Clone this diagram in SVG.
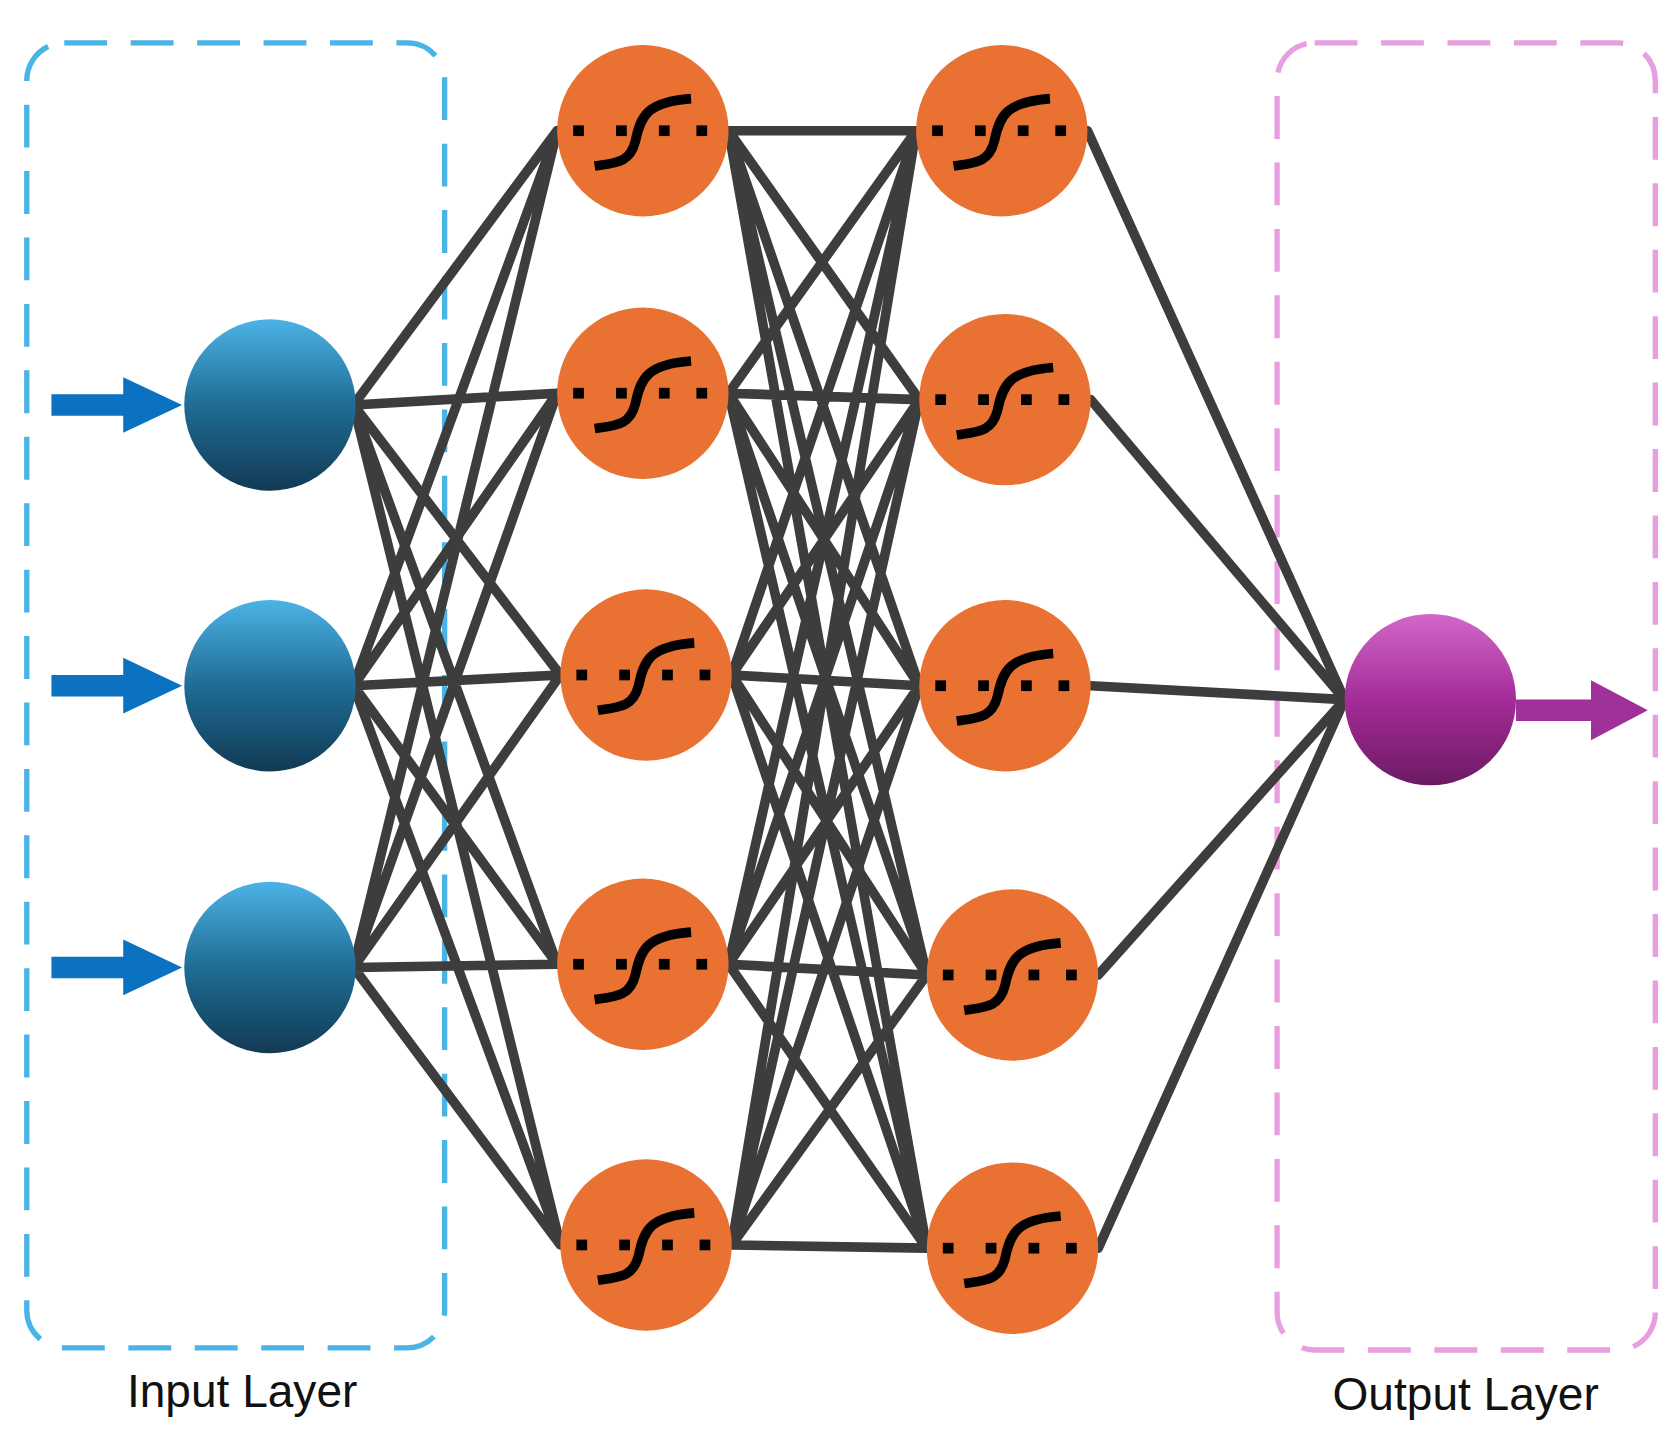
<svg xmlns="http://www.w3.org/2000/svg" width="1680" height="1449" viewBox="0 0 1680 1449">
<defs>
<linearGradient id="gb" x1="0" y1="0" x2="0" y2="1"><stop offset="0" stop-color="#4cb3e6"/><stop offset="0.5" stop-color="#1f6c94"/><stop offset="1" stop-color="#123a55"/></linearGradient>
<linearGradient id="gp" x1="0" y1="0" x2="0" y2="1"><stop offset="0" stop-color="#d168c8"/><stop offset="0.5" stop-color="#a42c98"/><stop offset="1" stop-color="#6c1a64"/></linearGradient>
<g id="sig"><circle r="80" fill="#e97132"/><g fill="#000"><rect x="-65" y="-5" width="10" height="10"/><rect x="-25" y="-5" width="10" height="10"/><rect x="15" y="-5" width="10" height="10"/><rect x="50" y="-5" width="10" height="10"/></g><path d="M-45 33 C-25 30 -12 30 -7 10 C-2 -15 5 -27 45 -30" fill="none" stroke="#000" stroke-width="9"/></g>
<style>.e{stroke:#3d3d3d;stroke-width:9;fill:none;stroke-linecap:round}.lb{font-family:"Liberation Sans",Arial,sans-serif;font-size:43px;fill:#111}</style>
</defs>
<rect width="1680" height="1449" fill="#fff"/>
<g transform="scale(1.0714)">
<rect x="25" y="40" width="390" height="1218" rx="35" fill="none" stroke="#4ab4e6" stroke-width="5" stroke-dasharray="40 22"/>
<rect x="1192" y="40" width="353" height="1220" rx="35" fill="none" stroke="#e89ee0" stroke-width="5" stroke-dasharray="40 22"/>
<g id="connectors">
<path class="e" d="M330 378L520 122M330 378L520 367M330 378L523 630M330 378L520 900M330 378L523 1162M330 640L520 122M330 640L520 367M330 640L523 630M330 640L520 900M330 640L523 1162M330 903L520 122M330 903L520 367M330 903L523 630M330 903L520 900M330 903L523 1162"/>
<path class="e" d="M680 122L855 122M680 122L858 373M680 122L858 640M680 122L865 910M680 122L865 1165M680 367L855 122M680 367L858 373M680 367L858 640M680 367L865 910M680 367L865 1165M683 630L855 122M683 630L858 373M683 630L858 640M683 630L865 910M683 630L865 1165M680 900L855 122M680 900L858 373M680 900L858 640M680 900L865 910M680 900L865 1165M683 1162L855 122M683 1162L858 373M683 1162L858 640M683 1162L865 910M683 1162L865 1165"/>
<path class="e" d="M1015 122L1255 653M1018 373L1255 653M1018 640L1255 653M1025 910L1255 653M1025 1165L1255 653"/>
<path d="M48 368H115V352L170 378L115 404V388H48Z M48 630H115V614L170 640L115 666V650H48Z M48 893H115V877L170 903L115 929V913H48Z" fill="#0a72c0"/>
<path d="M1415 653H1485V635L1538 663L1485 691V673H1415Z" fill="#a0309a"/>
</g>
<g id="in1"><circle cx="252" cy="378" r="80" fill="url(#gb)"/></g>
<g id="in2"><circle cx="252" cy="640" r="80" fill="url(#gb)"/></g>
<g id="in3"><circle cx="252" cy="903" r="80" fill="url(#gb)"/></g>
<g id="h11"><use href="#sig" x="600" y="122"/></g>
<g id="h12"><use href="#sig" x="600" y="367"/></g>
<g id="h13"><use href="#sig" x="603" y="630"/></g>
<g id="h14"><use href="#sig" x="600" y="900"/></g>
<g id="h15"><use href="#sig" x="603" y="1162"/></g>
<g id="h21"><use href="#sig" x="935" y="122"/></g>
<g id="h22"><use href="#sig" x="938" y="373"/></g>
<g id="h23"><use href="#sig" x="938" y="640"/></g>
<g id="h24"><use href="#sig" x="945" y="910"/></g>
<g id="h25"><use href="#sig" x="945" y="1165"/></g>
<g id="out"><circle cx="1335" cy="653" r="80" fill="url(#gp)"/></g>
<text class="lb" x="226" y="1313" text-anchor="middle">Input Layer</text>
<text class="lb" x="1368" y="1316" text-anchor="middle">Output Layer</text>
</g>
</svg>
